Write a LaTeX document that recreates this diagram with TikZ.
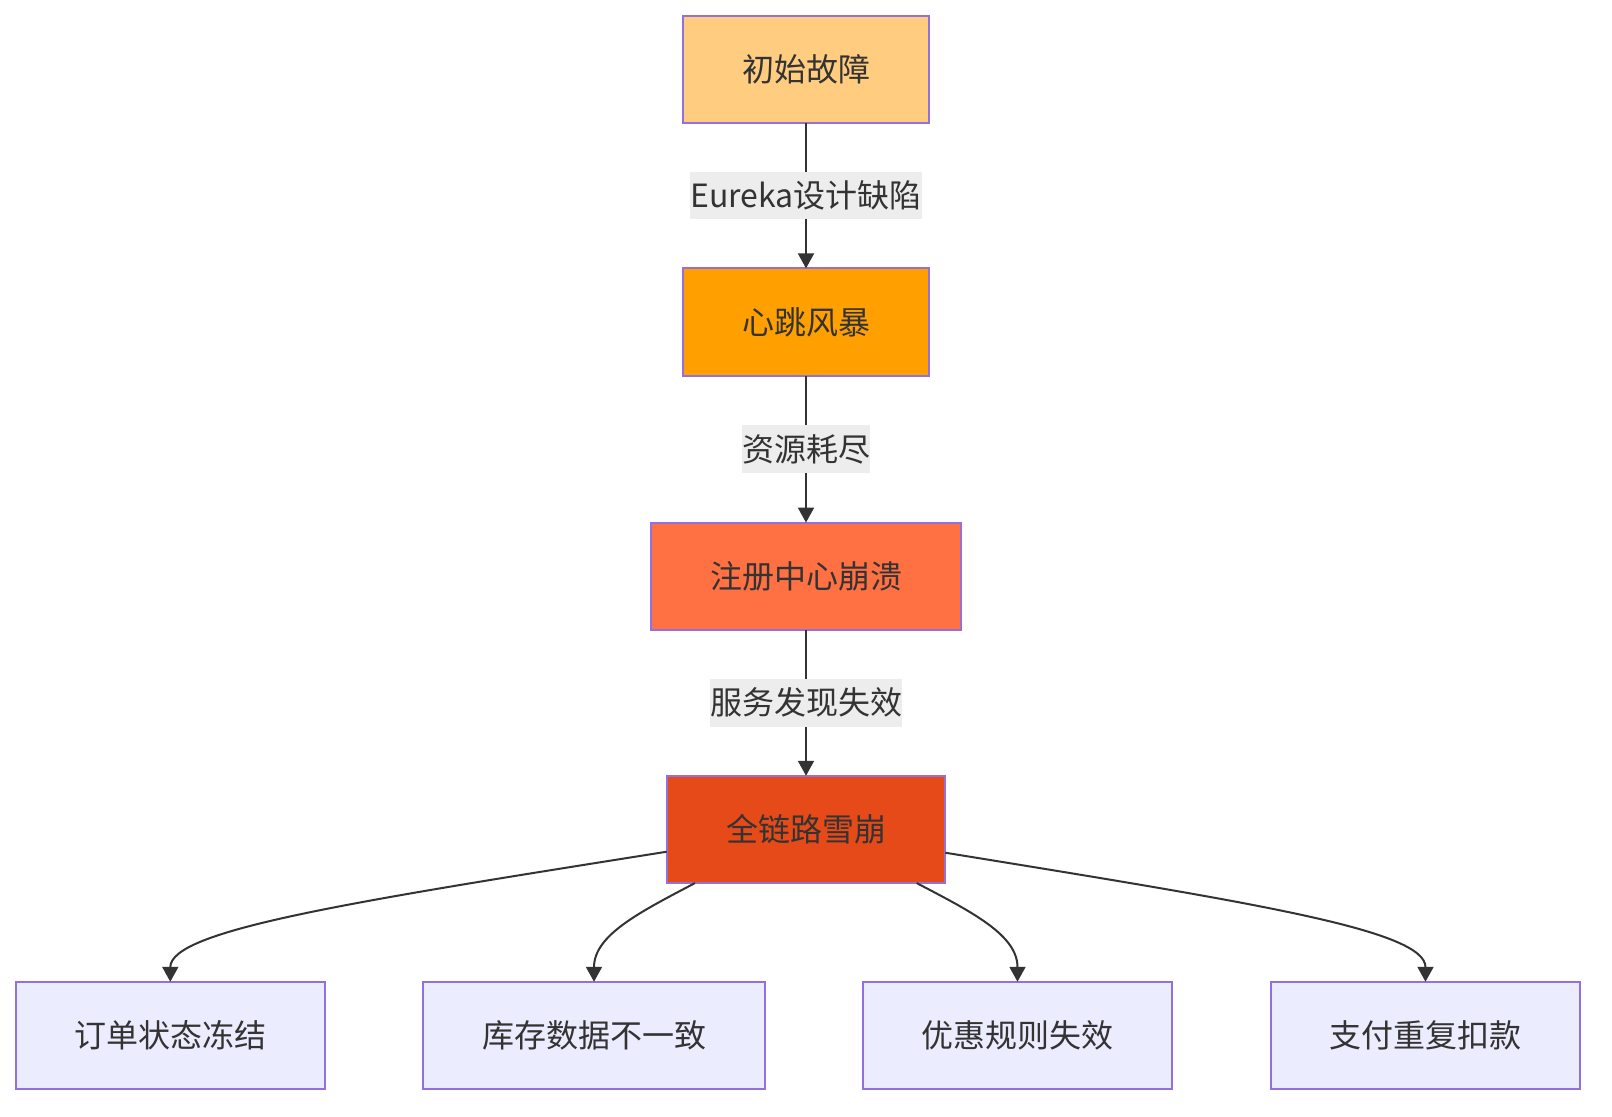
\documentclass[tikz,border=0pt]{standalone}
\usepackage{fontspec}
\setmainfont{Noto Sans CJK SC}
\usetikzlibrary{arrows.meta,calc}
\definecolor{cA}{HTML}{FFCC80}
\definecolor{cB}{HTML}{FFA000}
\definecolor{cC}{HTML}{FF7043}
\definecolor{cD}{HTML}{E64A19}
\definecolor{leaf}{HTML}{ECECFF}
\definecolor{bord}{HTML}{9370DB}
\definecolor{ink}{HTML}{333333}
\definecolor{lblbg}{HTML}{EDEDED}
\tikzset{
  box/.style={draw=bord, line width=1pt, rectangle, minimum height=53.65pt, inner sep=0pt, outer sep=0pt, text=ink, font=\fontsize{16pt}{20pt}\selectfont},
  edge/.style={draw=ink, line width=1pt, -{Triangle[length=7.5pt,width=8pt]}},
  lbl/.style={fill=lblbg, inner xsep=0pt, inner ysep=0pt, minimum height=23.85pt, text=ink, font=\fontsize{16pt}{20pt}\selectfont}
}
\begin{document}
\begin{tikzpicture}[x=0.5pt,y=-0.5pt]
\useasboundingbox (0,0) rectangle (1612,1116);
\fill[white] (0,0) rectangle (1612,1116);
\node[box, fill=cA, minimum width=123pt] (n1) at (806,69.2) {初始故障};
\node[box, fill=cB, minimum width=123pt] (n2) at (806,322) {心跳风暴};
\node[box, fill=cC, minimum width=155pt] (n3) at (806,576.2) {注册中心崩溃};
\node[box, fill=cD, minimum width=139.3pt] (n4) at (806,829.4) {全链路雪崩};
\node[box, fill=leaf, minimum width=154.7pt] (b1) at (170.3,1035.4) {订单状态冻结};
\node[box, fill=leaf, minimum width=170.7pt] (b2) at (594,1035.4) {库存数据不一致};
\node[box, fill=leaf, minimum width=154.8pt] (b3) at (1017.5,1035.4) {优惠规则失效};
\node[box, fill=leaf, minimum width=154.8pt] (b4) at (1425.5,1035.4) {支付重复扣款};

\draw[edge] (n1) -- node[lbl] (l1) {Eureka设计缺陷} (n2);
\draw[edge] (n2) -- node[lbl] (l2) {资源耗尽} (n3);
\draw[edge] (n3) -- node[lbl] (l3) {服务发现失效} (n4);

\coordinate (s1) at ($(n4.west)+(0,22.3)$);
\coordinate (s2) at ($(n4.south)+(-111,0)$);
\coordinate (s3) at ($(n4.south)+(110.7,0)$);
\coordinate (s4) at ($(n4.east)+(0,23.3)$);

\draw[edge] (s1) .. controls (350,902) and (170.3,930) .. (b1.north);
\draw[edge] (s2) .. controls (640,912) and (594,935) .. (b2.north);
\draw[edge] (s3) .. controls (972,912) and (1017.5,935) .. (b3.north);
\draw[edge] (s4) .. controls (1255,903) and (1425.5,930) .. (b4.north);
\end{tikzpicture}
\end{document}
